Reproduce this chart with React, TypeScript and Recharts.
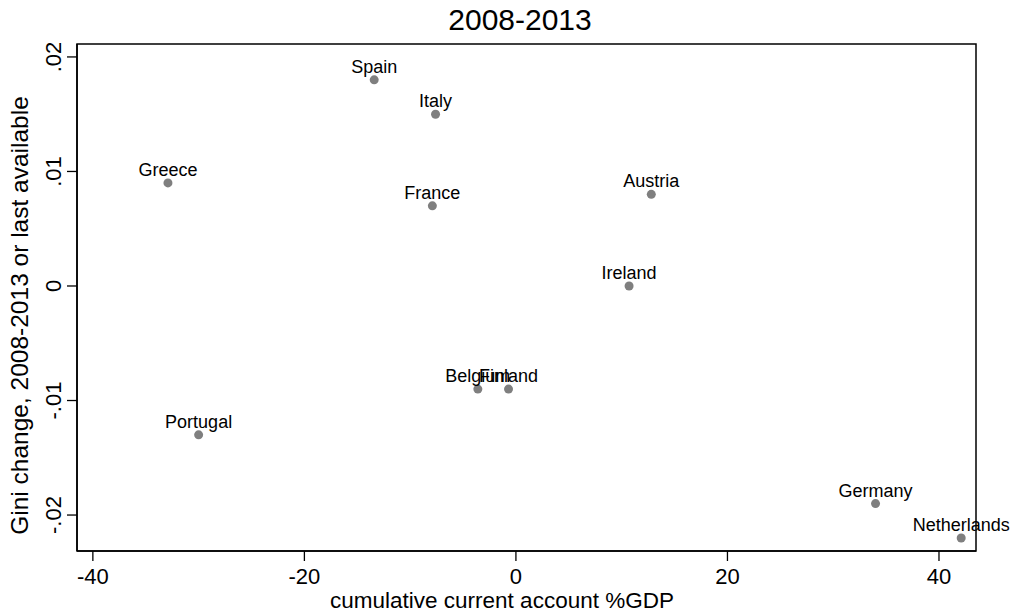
import { ReferenceArea, Scatter, ScatterChart, XAxis, YAxis } from "recharts";

const countries = [
  "Spain",
  "Italy",
  "Greece",
  "France",
  "Austria",
  "Ireland",
  "Belgium",
  "Finland",
  "Portugal",
  "Germany",
  "Netherlands",
];
const currentAccount = [-13.4, -7.6, -32.9, -7.9, 12.8, 10.7, -3.6, -0.7, -30.0, 34.0, 42.1];
const giniChange = [0.018, 0.015, 0.009, 0.007, 0.008, 0, -0.009, -0.009, -0.013, -0.019, -0.022];

const xTicks = [-40, -20, 0, 20, 40];
const yTicks = [-0.02, -0.01, 0, 0.01, 0.02];
const yTickLabels = ["-.02", "-.01", "0", ".01", ".02"];

const xDomain: [number, number] = [-41.5, 43.5];
const yDomain: [number, number] = [-0.02314, 0.02113];

const FONT = "'Liberation Sans', Arial, sans-serif";

const points = countries.map((name, i) => ({
  name,
  x: currentAccount[i],
  y: giniChange[i],
}));

function Dot(props: any) {
  const { cx, cy, payload } = props;
  return (
    <g>
      <circle cx={cx} cy={cy} r={4.5} fill="#7f7f7f" />
      <text
        x={cx}
        y={cy - 7}
        textAnchor="middle"
        fontSize={18}
        fontFamily={FONT}
        fill="#000"
      >
        {payload.name}
      </text>
    </g>
  );
}

function XTick({ x, y, payload }: any) {
  return (
    <text
      x={x}
      y={y + 21}
      textAnchor="middle"
      fontSize={22}
      fontFamily={FONT}
      fill="#000"
    >
      {payload.value}
    </text>
  );
}

function YTick({ x, y, payload }: any) {
  const idx = yTicks.indexOf(payload.value);
  return (
    <text
      x={0}
      y={0}
      transform={`translate(${x - 4},${y}) rotate(-90)`}
      textAnchor="middle"
      fontSize={22}
      fontFamily={FONT}
      fill="#000"
    >
      {yTickLabels[idx] ?? payload.value}
    </text>
  );
}

export default function App() {
  return (
    <div
      style={{
        position: "absolute",
        left: 0,
        top: 0,
        width: 1020,
        height: 614,
        background: "#fff",
        fontFamily: FONT,
      }}
    >
      <div
        style={{
          position: "absolute",
          left: 370,
          top: 3,
          width: 300,
          textAlign: "center",
          fontSize: 30,
          color: "#000",
        }}
      >
        2008-2013
      </div>
      <ScatterChart
        width={1020}
        height={614}
        margin={{ top: 44, right: 44, bottom: 0, left: 0 }}
        style={{ overflow: "visible" }}
      >
        <XAxis
          type="number"
          dataKey="x"
          domain={xDomain}
          ticks={xTicks}
          height={63}
          tickSize={10}
          tickLine={{ stroke: "#000", strokeWidth: 1.3 }}
          axisLine={{ stroke: "#000", strokeWidth: 1.5 }}
          tick={<XTick />}
          label={{
            content: ({ viewBox }: any) => (
              <text
                x={502}
                y={viewBox.y + viewBox.height - 6}
                textAnchor="middle"
                fontSize={22.5}
                fontFamily={FONT}
                fill="#000"
              >
                cumulative current account %GDP
              </text>
            ),
          }}
        />
        <YAxis
          type="number"
          dataKey="y"
          domain={yDomain}
          ticks={yTicks}
          width={77}
          tickSize={10}
          tickLine={{ stroke: "#000", strokeWidth: 1.3 }}
          axisLine={{ stroke: "#000", strokeWidth: 1.5 }}
          tick={<YTick />}
          label={{
            content: ({ viewBox }: any) => (
              <text
                x={0}
                y={0}
                transform={`translate(28,${viewBox.y + viewBox.height / 2 + 18}) rotate(-90)`}
                textAnchor="middle"
                fontSize={24.5}
                fontFamily={FONT}
                fill="#000"
              >
                Gini change, 2008-2013 or last available
              </text>
            ),
          }}
        />
        <ReferenceArea
          x1={xDomain[0]}
          x2={xDomain[1]}
          y1={yDomain[0]}
          y2={yDomain[1]}
          fill="none"
          stroke="#000"
          strokeWidth={1.5}
          ifOverflow="visible"
        />
        <Scatter data={points} shape={<Dot />} isAnimationActive={false} />
      </ScatterChart>
    </div>
  );
}
